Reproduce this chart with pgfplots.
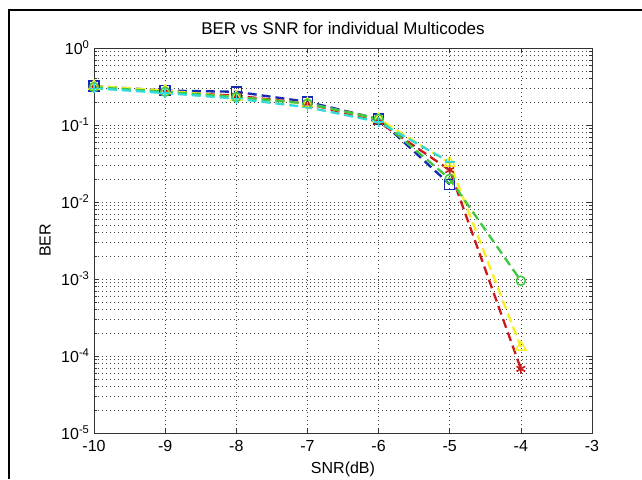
\documentclass[border=0pt]{standalone}
\usepackage{fontspec}
\setmainfont{Liberation Sans}
\usepackage{pgfplots}
\pgfplotsset{compat=1.18}
\definecolor{mblue}{rgb}{0.08,0.16,0.70}
\definecolor{mred}{rgb}{0.80,0.10,0.10}
\definecolor{myellow}{rgb}{0.97,0.94,0.15}
\definecolor{mgreen}{rgb}{0.25,0.78,0.25}
\definecolor{mcyan}{rgb}{0.20,0.85,0.85}
\begin{document}
\begin{tikzpicture}[font=\fontsize{16pt}{19pt}\selectfont]
\path[use as bounding box] (0pt,0pt) rectangle (642pt,479pt);
\fill[white] (0pt,0pt) rectangle (642pt,479pt);
\begin{axis}[
  at={(94pt,46pt)}, anchor=south west,
  scale only axis, width=498pt, height=385pt,
  ymode=log, log basis y=10,
  xmin=-10, xmax=-3, ymin=1e-5, ymax=1,
  xtick={-10,-9,-8,-7,-6,-5,-4,-3},
  xticklabels={-10,-9,-8,-7,-6,-5,-4,-3},
  ytick={1e-5,1e-4,1e-3,1e-2,1e-1,1},
  yticklabels={10\textsuperscript{-5},10\textsuperscript{-4},10\textsuperscript{-3},10\textsuperscript{-2},10\textsuperscript{-1},10\textsuperscript{0}},
  minor ytick={2e-5,3e-5,4e-5,5e-5,6e-5,7e-5,8e-5,9e-5,
               2e-4,3e-4,4e-4,5e-4,6e-4,7e-4,8e-4,9e-4,
               2e-3,3e-3,4e-3,5e-3,6e-3,7e-3,8e-3,9e-3,
               2e-2,3e-2,4e-2,5e-2,6e-2,7e-2,8e-2,9e-2,
               2e-1,3e-1,4e-1,5e-1,6e-1,7e-1,8e-1,9e-1},
  tick align=inside, tick pos=both,
  major tick length=5pt, minor tick length=3pt,
  xmajorgrids, ymajorgrids, yminorgrids,
  major grid style={black!75, line width=0.6pt, dash pattern=on 0.8pt off 3.2pt},
  minor grid style={black!75, line width=0.6pt, dash pattern=on 0.8pt off 3.2pt},
  axis line style={black!80, line width=0.8pt},
  every tick/.style={black!80, line width=0.6pt},
  xticklabel style={yshift=-4pt},
  yticklabel style={xshift=-1pt},
  title={BER vs SNR for individual Multicodes},
  title style={at={(axis description cs:0.5,1.034)}, anchor=center, font=\fontsize{17pt}{20pt}\selectfont},
  xlabel={SNR(dB)},
  xlabel style={at={(axis description cs:0.5,-0.0935)}, anchor=center},
  ylabel={BER},
  ylabel style={at={(axis description cs:-0.098,0.5)}, anchor=center},
  every axis plot/.append style={line width=2.3pt, dash pattern=on 9pt off 5pt},
]
\addplot[mblue, mark=square, mark size=5pt, mark options={solid, line width=1.5pt}] coordinates {
 (-10,0.32) (-9,0.28) (-8,0.27) (-7,0.20) (-6,0.12) (-5,0.017)};
\addplot[mred, mark=asterisk, mark size=5pt, mark options={solid, line width=1.6pt}] coordinates {
 (-10,0.31) (-9,0.27) (-8,0.24) (-7,0.19) (-6,0.11) (-5,0.026) (-4,6.8e-5)};
\addplot[myellow, mark=triangle, mark size=6pt, mark options={solid, line width=1.5pt}] coordinates {
 (-10,0.32) (-9,0.28) (-8,0.23) (-7,0.19) (-6,0.12) (-5,0.032) (-4,1.3e-4)};
\addplot[mgreen, mark=o, mark size=4.5pt, mark options={solid, line width=1.5pt}] coordinates {
 (-10,0.31) (-9,0.27) (-8,0.23) (-7,0.19) (-6,0.12) (-5,0.020) (-4,9.5e-4)};
\addplot[mcyan, mark=+, mark size=5pt, mark options={solid, line width=1.5pt}] coordinates {
 (-10,0.30) (-9,0.26) (-8,0.22) (-7,0.17) (-6,0.11) (-5,0.033)};
\end{axis}
\draw[black, line width=2.5pt] (9pt,0pt) -- (9pt,469pt) -- (642pt,469pt);
\end{tikzpicture}
\end{document}
